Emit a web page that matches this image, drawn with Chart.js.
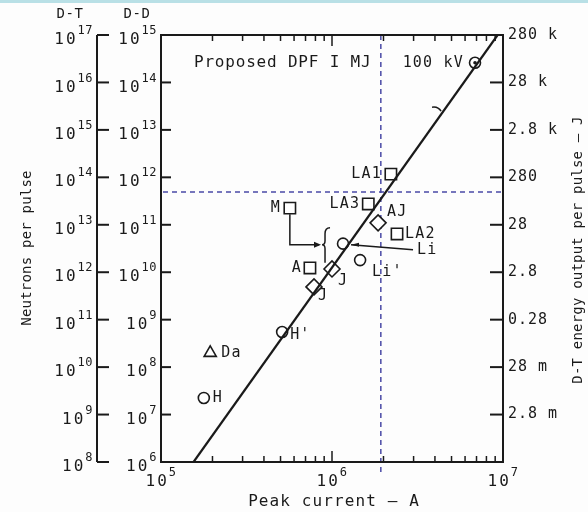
<!DOCTYPE html>
<html>
<head>
<meta charset="utf-8">
<script src="https://cdn.jsdelivr.net/npm/chart.js@4.4.1/dist/chart.umd.min.js"></script>
<style>
  html, body { margin: 0; padding: 0; background: #fdfdfd; }
  #wrap { width: 588px; height: 512px; }
</style>
</head>
<body>
<div id="wrap"><canvas id="chart" width="588" height="512"></canvas></div>
<script>
// D-D neutron yield decades (inner axis); D-T = D-D x 100
const ddExps = [6, 7, 8, 9, 10, 11, 12, 13, 14, 15];
const dtExps = [8, 9, 10, 11, 12, 13, 14, 15, 16, 17];
// D-T energy per pulse, matching D-D 10^15 ... 10^7
const energyExps = [15, 14, 13, 12, 11, 10, 9, 8, 7];
const energyLabels = ['280 k', '28 k', '2.8 k', '280', '28', '2.8', '0.28', '28 m', '2.8 m'];
const currentExps = [5, 6, 7];

// devices (peak current in A, D-D neutrons per pulse)
const squareNames = ['LA1', 'LA3', 'M', 'LA2', 'A'];
const squareCurrent = [2.21e6, 1.63e6, 5.67e5, 2.4e6, 7.43e5];
const squareYield = [1.17e12, 2.75e11, 2.24e11, 6.4e10, 1.23e10];

const circleNames = ['100 kV', 'Li', "Li'", "H'", 'H'];
const circleCurrent = [6.86e6, 1.16e6, 1.46e6, 5.11e5, 1.78e5];
const circleYield = [2.6e14, 4.0e10, 1.8e10, 5.5e8, 2.24e7];

const diamondNames = ['AJ', 'J', 'J'];
const diamondCurrent = [1.86e6, 1.0e6, 7.85e5];
const diamondYield = [1.1e11, 1.17e10, 4.9e9];

const triangleNames = ['Da'];
const triangleCurrent = [1.94e5];
const triangleYield = [2.0e8];

// scaling line
const fitCurrent = [1.55e5, 9.3e6];
const fitYield = [1e6, 1e15];

// proposed DPF 1 MJ crosshair
const proposedCurrent = 1.93e6;
const proposedYield = 4.9e11;

// label placement (dx, dy, align) per point
const squareLabelPos = [[-9, 0, 'right'], [-8, 0, 'right'], [-9, 0, 'right'], [8, 0, 'left'], [-8, 0, 'right']];
const circleLabelPos = [[-11, 0, 'right'], [74, 6, 'left'], [12, 12, 'left'], [8, 3, 'left'], [9, 0, 'left']];
const diamondLabelPos = [[9, -11, 'left'], [6, 12, 'left'], [4, 9, 'left']];
const triangleLabelPos = [[11, 0, 'left']];

const MONO = '"DejaVu Sans Mono", "Liberation Mono", monospace';
const INK = '#1a1a1a';
const DASH = '#4a4aa6';

function pts(xs, ys) {
  return xs.map((x, i) => ({ x: x, y: ys[i] }));
}

function setFont(ctx, size, spacing) {
  ctx.font = size + 'px ' + MONO;
  ctx.letterSpacing = (spacing || 0) + 'px';
}

function text(ctx, s, x, y, size, align, spacing) {
  setFont(ctx, size, spacing);
  ctx.textAlign = align || 'left';
  ctx.textBaseline = 'middle';
  ctx.fillText(s, x, y);
}

function pow10(ctx, exp, x, y, align) {
  setFont(ctx, 16, 2);
  const wb = ctx.measureText('10').width;
  setFont(ctx, 12, 0.5);
  const ws = ctx.measureText(String(exp)).width;
  let x0 = x;
  if (align === 'right') x0 = x - wb - ws;
  if (align === 'center') x0 = x - (wb + ws) / 2;
  ctx.textAlign = 'left';
  ctx.textBaseline = 'middle';
  setFont(ctx, 16, 2);
  ctx.fillText('10', x0, y + 5);
  setFont(ctx, 12, 0.5);
  ctx.fillText(String(exp), x0 + wb, y - 4);
}

function line(ctx, x1, y1, x2, y2) {
  ctx.beginPath();
  ctx.moveTo(x1, y1);
  ctx.lineTo(x2, y2);
  ctx.stroke();
}

const bgPlugin = {
  id: 'bg',
  beforeDraw(chart) {
    const ctx = chart.ctx;
    ctx.save();
    ctx.fillStyle = '#fdfdfd';
    ctx.fillRect(0, 0, chart.width, chart.height);
    ctx.fillStyle = '#b9e0e6';
    ctx.fillRect(0, 0, chart.width, 3);
    ctx.restore();
  },
  beforeDatasetsDraw(chart) {
    const ctx = chart.ctx;
    const a = chart.chartArea;
    const xs = chart.scales.x, ys = chart.scales.y;
    const px = xs.getPixelForValue(proposedCurrent);
    const py = ys.getPixelForValue(proposedYield);
    ctx.save();
    ctx.strokeStyle = DASH;
    ctx.lineWidth = 1.5;
    ctx.setLineDash([5, 4]);
    line(ctx, px, a.top, px, a.bottom + 10);
    line(ctx, a.left + 2, py, a.right, py);
    ctx.restore();
  }
};

const figurePlugin = {
  id: 'figure',
  afterDatasetsDraw(chart) {
    const ctx = chart.ctx;
    const a = chart.chartArea;
    const xs = chart.scales.x, ys = chart.scales.y;
    const outerX = 97;
    ctx.save();
    ctx.strokeStyle = INK;
    ctx.fillStyle = INK;
    ctx.lineWidth = 2;

    // frame
    ctx.strokeRect(a.left, a.top, a.right - a.left, a.bottom - a.top);
    // outer D-T axis
    line(ctx, outerX, a.top, outerX, a.bottom);

    // y decade ticks and labels
    ddExps.forEach((e, i) => {
      const y = ys.getPixelForValue(Math.pow(10, e));
      line(ctx, outerX, y, outerX + 12, y);
      if (e > 6 && e < 15) line(ctx, a.left, y, a.left + 10, y);
      pow10(ctx, dtExps[i], outerX - 4, y, 'right');
      pow10(ctx, e, a.left - 4, y, 'right');
    });

    // energy axis on the right
    energyExps.forEach((e, i) => {
      const y = ys.getPixelForValue(Math.pow(10, e));
      if (e < 15) line(ctx, a.right - 13, y, a.right, y);
      text(ctx, energyLabels[i], a.right + 5, y, 15, 'left', 1);
    });

    // current ticks top and bottom
    ctx.lineWidth = 1.5;
    [1e5, 1e6].forEach(dec => {
      for (let m = 1; m <= 9; m++) {
        const v = dec * m;
        if (v <= 1e5) continue;
        const x = xs.getPixelForValue(v);
        const len = m === 1 ? 11 : 6;
        line(ctx, x, a.top, x, a.top + len);
        line(ctx, x, a.bottom, x, a.bottom - len);
      }
    });
    currentExps.forEach(e => {
      const x = xs.getPixelForValue(Math.pow(10, e));
      pow10(ctx, e, x, a.bottom + 15, 'center');
    });

    // annotations: M arrow, brace, Li leader, hook on line
    const mPt = chart.getDatasetMeta(1).data[2];
    const liPt = chart.getDatasetMeta(2).data[1];
    const braceX = liPt.x - 18;
    ctx.lineWidth = 1.5;
    ctx.beginPath();
    ctx.moveTo(mPt.x, mPt.y + 6);
    ctx.lineTo(mPt.x, liPt.y + 1);
    ctx.lineTo(braceX - 6, liPt.y + 1);
    ctx.stroke();
    ctx.beginPath();
    ctx.moveTo(braceX - 4, liPt.y + 1);
    ctx.lineTo(braceX - 11, liPt.y - 2);
    ctx.lineTo(braceX - 11, liPt.y + 4);
    ctx.closePath();
    ctx.fill();
    ctx.beginPath();
    ctx.moveTo(braceX + 5, liPt.y - 16);
    ctx.quadraticCurveTo(braceX, liPt.y - 16, braceX, liPt.y - 10);
    ctx.lineTo(braceX, liPt.y - 3);
    ctx.quadraticCurveTo(braceX, liPt.y + 1, braceX - 3, liPt.y + 1);
    ctx.quadraticCurveTo(braceX, liPt.y + 1, braceX, liPt.y + 5);
    ctx.lineTo(braceX, liPt.y + 19);
    ctx.stroke();
    line(ctx, liPt.x + 8, liPt.y + 1, liPt.x + 70, liPt.y + 6);
    ctx.beginPath();
    ctx.moveTo(liPt.x + 8, liPt.y + 1);
    ctx.lineTo(liPt.x + 16, liPt.y - 1);
    ctx.lineTo(liPt.x + 16, liPt.y + 3);
    ctx.closePath();
    ctx.fill();
    const hx = xs.getPixelForValue(fitCurrent[0] * Math.pow(fitCurrent[1] / fitCurrent[0], Math.log10(2.6e13 / fitYield[0]) / Math.log10(fitYield[1] / fitYield[0])));
    const hy = ys.getPixelForValue(2.6e13);
    ctx.beginPath();
    ctx.moveTo(hx - 12, hy - 3);
    ctx.quadraticCurveTo(hx - 6, hy - 4, hx - 3, hy + 1);
    ctx.stroke();

    // dot inside the 100 kV circle
    const kv = chart.getDatasetMeta(2).data[0];
    ctx.beginPath();
    ctx.arc(kv.x, kv.y, 1.8, 0, Math.PI * 2);
    ctx.fill();

    // point labels
    const groups = [
      [1, squareNames, squareLabelPos],
      [2, circleNames, circleLabelPos],
      [3, diamondNames, diamondLabelPos],
      [4, triangleNames, triangleLabelPos]
    ];
    groups.forEach(([di, names, pos]) => {
      chart.getDatasetMeta(di).data.forEach((el, i) => {
        const p = pos[i];
        text(ctx, names[i], el.x + p[0], el.y + p[1], 15, p[2], 1.2);
      });
    });

    // figure texts
    text(ctx, 'Proposed DPF I MJ', a.left + 33, 63, 16, 'left', 0.8);
    text(ctx, 'D-T', 70, 14, 14, 'center', 0.5);
    text(ctx, 'D-D', 137, 14, 14, 'center', 0.5);
    text(ctx, 'Peak current \u2014 A', 334, 502, 16, 'center', 1.1);
    ctx.save();
    ctx.translate(27, 248);
    ctx.rotate(-Math.PI / 2);
    text(ctx, 'Neutrons per pulse', 0, 0, 14, 'center', 0.2);
    ctx.restore();
    ctx.save();
    ctx.translate(578, 250);
    ctx.rotate(-Math.PI / 2);
    text(ctx, 'D-T energy output per pulse \u2014 J', 0, 0, 14, 'center', 0.2);
    ctx.restore();
    ctx.restore();
  }
};

const markerStyle = {
  backgroundColor: '#ffffff',
  borderColor: INK,
  borderWidth: 1.6,
  showLine: false
};

new Chart(document.getElementById('chart'), {
  type: 'scatter',
  data: {
    datasets: [
      {
        type: 'line',
        data: pts(fitCurrent, fitYield),
        borderColor: INK,
        borderWidth: 2.2,
        pointRadius: 0,
        fill: false
      },
      Object.assign({ data: pts(squareCurrent, squareYield), pointStyle: 'rect', pointRadius: 8 }, markerStyle),
      Object.assign({ data: pts(circleCurrent, circleYield), pointStyle: 'circle', pointRadius: 5.5 }, markerStyle),
      Object.assign({ data: pts(diamondCurrent, diamondYield), pointStyle: 'rectRot', pointRadius: 8 }, markerStyle),
      Object.assign({ data: pts(triangleCurrent, triangleYield), pointStyle: 'triangle', pointRadius: 7 }, markerStyle)
    ]
  },
  options: {
    responsive: false,
    animation: false,
    layout: { padding: { left: 161, right: 85, top: 35, bottom: 50 } },
    scales: {
      x: { type: 'logarithmic', min: 1e5, max: 1e7, display: false },
      y: { type: 'logarithmic', min: 1e6, max: 1e15, display: false }
    },
    plugins: {
      legend: { display: false },
      tooltip: { enabled: false }
    }
  },
  plugins: [bgPlugin, figurePlugin]
});
</script>
</body>
</html>
